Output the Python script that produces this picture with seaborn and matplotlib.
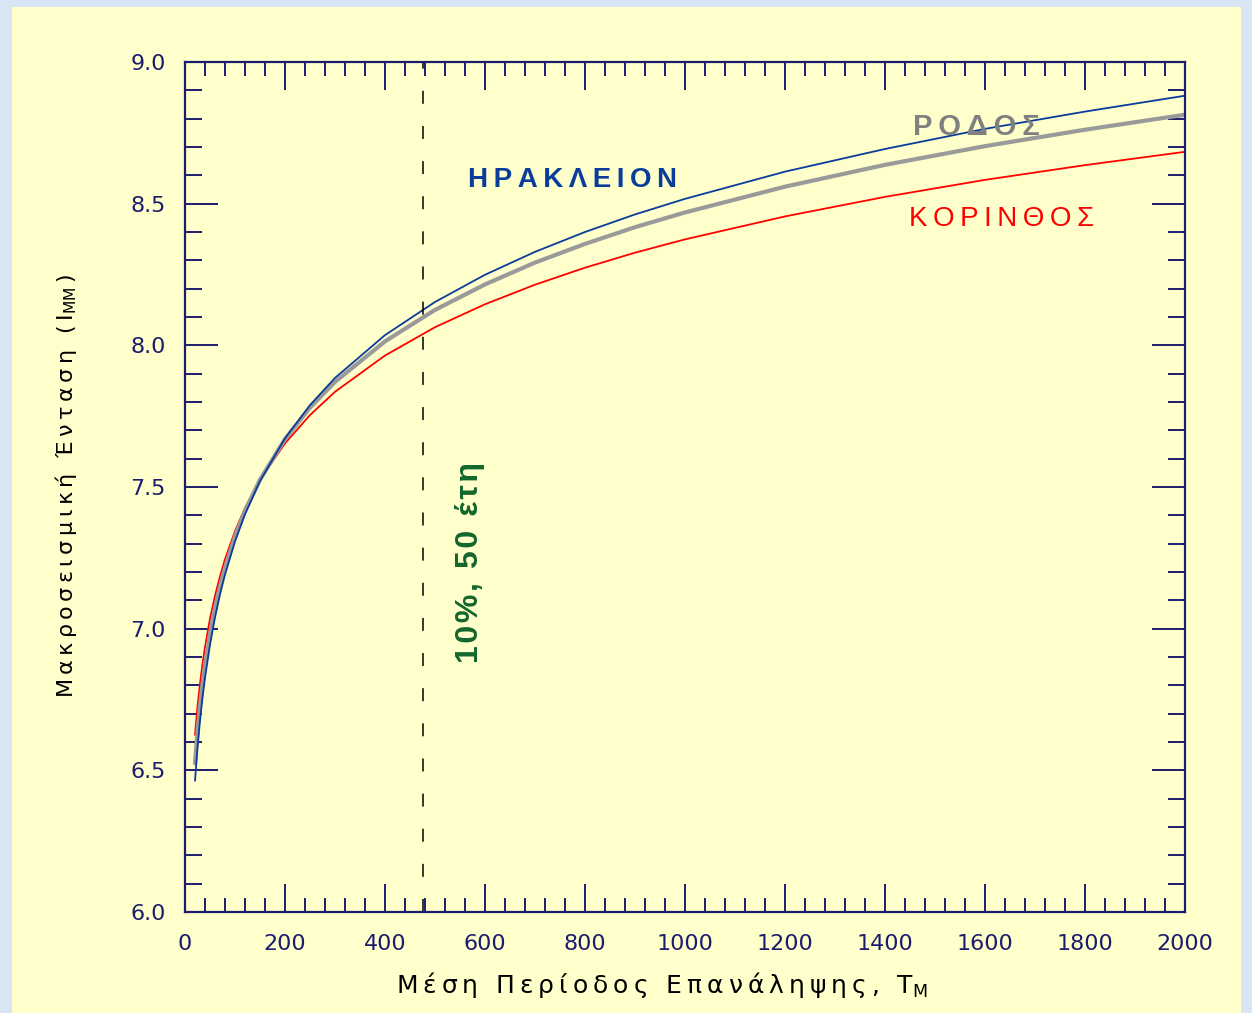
import matplotlib
matplotlib.use("Agg")
import matplotlib.pyplot as plt
import seaborn as sns
import pandas as pd
from matplotlib.ticker import MultipleLocator, FormatStrFormatter
from matplotlib.patches import Rectangle

# ---- data ----
T_years = [20, 25, 30, 35, 40, 50, 60, 70, 80, 100, 120, 150, 200, 250, 300, 400,
           500, 600, 700, 800, 900, 1000, 1200, 1400, 1600, 1800, 2000]
I_heraklion = [6.463, 6.580, 6.676, 6.757, 6.827, 6.944, 7.040, 7.121, 7.191, 7.308,
               7.404, 7.521, 7.672, 7.789, 7.885, 8.036, 8.153, 8.249, 8.330, 8.400,
               8.462, 8.517, 8.613, 8.693, 8.764, 8.825, 8.881]
I_rhodes = [6.525, 6.636, 6.727, 6.803, 6.869, 6.980, 7.071, 7.148, 7.214, 7.325,
            7.416, 7.526, 7.669, 7.780, 7.871, 8.014, 8.125, 8.215, 8.292, 8.358,
            8.417, 8.469, 8.560, 8.637, 8.703, 8.761, 8.814]
I_corinth = [6.625, 6.725, 6.806, 6.875, 6.935, 7.035, 7.116, 7.185, 7.245, 7.344,
             7.426, 7.526, 7.654, 7.754, 7.836, 7.964, 8.064, 8.145, 8.214, 8.274,
             8.327, 8.374, 8.455, 8.524, 8.584, 8.636, 8.683]
T_10pct_50yr = 475

x_ticks = list(range(0, 2001, 200))
y_ticks = [6.0, 6.5, 7.0, 7.5, 8.0, 8.5, 9.0]

label_heraklion = "ΗΡΑΚΛΕΙΟΝ"
label_rhodes = "ΡΟΔΟΣ"
label_corinth = "ΚΟΡΙΝΘΟΣ"
label_hazard = "10%, 50 έτη"
xlabel = "Μέση Περίοδος Επανάληψης, T"
ylabel = "Μακροσεισμική Ένταση (I"

df = pd.DataFrame({
    "T": T_years * 3,
    "I": I_heraklion + I_rhodes + I_corinth,
    "city": [label_heraklion] * len(T_years) + [label_rhodes] * len(T_years) + [label_corinth] * len(T_years),
})

def spaced(s, sp="\u2009"):
    return sp.join(list(s))

# ---- style ----
sns.set_theme(style="ticks")
plt.rcParams["font.family"] = ["DejaVu Sans"]
plt.rcParams["mathtext.fontset"] = "dejavusans"

W, H = 1252, 1013
fig = plt.figure(figsize=(W / 100, H / 100), dpi=100)
fig.patch.set_facecolor("#D8E5F4")
bg = Rectangle((12 / W, 0), (1241 - 12) / W, (H - 7) / H,
               transform=fig.transFigure, facecolor="#FFFFCC",
               edgecolor="none", zorder=-5)
fig.patches.append(bg)

ax = fig.add_axes([185 / W, (H - 912) / H, 1000 / W, 850 / H])
ax.set_zorder(2)
ax.set_facecolor("#FFFFCC")

navy = "#1C1C6E"
blue = "#0A3C9C"
red = "#FF0000"
gray = "#9A9A9A"

sns.lineplot(data=df[df.city == label_corinth], x="T", y="I", color=red, lw=1.3, ax=ax)
sns.lineplot(data=df[df.city == label_rhodes], x="T", y="I", color=gray, lw=3.0, ax=ax)
sns.lineplot(data=df[df.city == label_heraklion], x="T", y="I", color=blue, lw=1.3, ax=ax)

ax.axvline(T_10pct_50yr, color="black", lw=1.1, dashes=(8.5, 14.5))

ax.set_xlim(0, 2000)
ax.set_ylim(6.0, 9.0)
ax.set_xticks(x_ticks)
ax.set_yticks(y_ticks)
ax.xaxis.set_minor_locator(MultipleLocator(40))
ax.yaxis.set_minor_locator(MultipleLocator(0.1))
ax.yaxis.set_major_formatter(FormatStrFormatter("%.1f"))

ax.tick_params(which="both", direction="in", top=True, right=True, color=navy,
               width=1.4, labelcolor=navy, labelsize=16)
ax.tick_params(axis="x", which="major", length=20, pad=16)
ax.tick_params(axis="x", which="minor", length=10)
ax.tick_params(axis="y", which="major", length=24, pad=14)
ax.tick_params(axis="y", which="minor", length=12)
for s in ax.spines.values():
    s.set_color(navy)
    s.set_linewidth(1.6)

ax.set_xlabel("")
ax.set_ylabel("")

fig.text(662 / W, 1 - 985 / H, spaced(xlabel) + r"$_{\mathregular{M}}$", ha="center",
         va="center", fontsize=18, color="black", zorder=3)
fig.text(66 / W, 1 - 486 / H, spaced(ylabel) + r"$_{\mathregular{MM}}$" + "\u2009)",
         ha="center", va="center", rotation=90, fontsize=16, color="black", zorder=3)

ax.text(776, 8.585, spaced(label_heraklion), ha="center", va="center", fontsize=20,
        fontweight="bold", color=blue, family=["Liberation Sans", "DejaVu Sans"])
ax.text(1582, 8.77, spaced(label_rhodes), ha="center", va="center", fontsize=21,
        fontweight="bold", color="#808080", family=["Liberation Sans", "DejaVu Sans"])
ax.text(1634, 8.446, spaced(label_corinth), ha="center", va="center", fontsize=20,
        color=red, family=["Liberation Sans", "DejaVu Sans"])
ax.text(570, 7.232, spaced(label_hazard, "\u200a"), ha="center", va="center", fontsize=23,
        rotation=90, fontweight="bold", color="#13662C",
        family=["Liberation Sans", "DejaVu Sans"])

fig.savefig("out.png", dpi=100, facecolor=fig.get_facecolor())
